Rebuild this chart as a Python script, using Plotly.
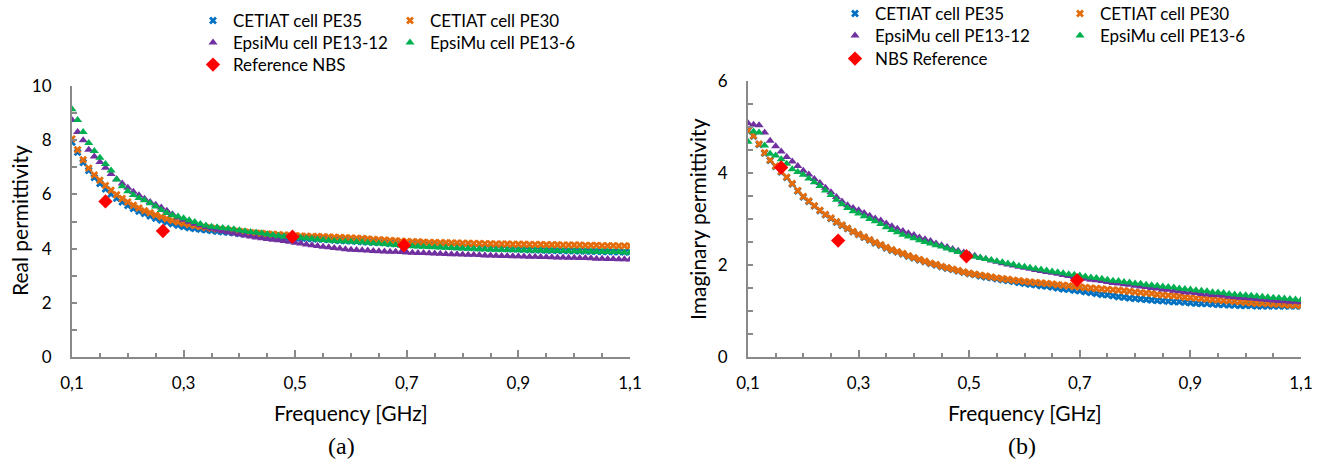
import plotly.graph_objects as go

# Frequency grid of the measurements [GHz]
freq = [
    0.10, 0.11, 0.12, 0.13, 0.14, 0.15, 0.16, 0.17, 0.18, 0.19,
    0.20, 0.21, 0.22, 0.23, 0.24, 0.25, 0.26, 0.27, 0.28, 0.29,
    0.30, 0.31, 0.32, 0.33, 0.34, 0.35, 0.36, 0.37, 0.38, 0.39,
    0.40, 0.41, 0.42, 0.43, 0.44, 0.45, 0.46, 0.47, 0.48, 0.49,
    0.50, 0.51, 0.52, 0.53, 0.54, 0.55, 0.56, 0.57, 0.58, 0.59,
    0.60, 0.61, 0.62, 0.63, 0.64, 0.65, 0.66, 0.67, 0.68, 0.69,
    0.70, 0.71, 0.72, 0.73, 0.74, 0.75, 0.76, 0.77, 0.78, 0.79,
    0.80, 0.81, 0.82, 0.83, 0.84, 0.85, 0.86, 0.87, 0.88, 0.89,
    0.90, 0.91, 0.92, 0.93, 0.94, 0.95, 0.96, 0.97, 0.98, 0.99,
    1.00, 1.01, 1.02, 1.03, 1.04, 1.05, 1.06, 1.07, 1.08, 1.09, 1.10,
]

# Real permittivity
real_pe35 = [
    7.92, 7.55, 7.18, 6.88, 6.62, 6.40, 6.20, 6.01, 5.86, 5.72,
    5.59, 5.48, 5.38, 5.29, 5.20, 5.12, 5.05, 4.98, 4.92, 4.86,
    4.81, 4.77, 4.74, 4.71, 4.69, 4.67, 4.64, 4.62, 4.60, 4.58,
    4.56, 4.54, 4.52, 4.51, 4.49, 4.48, 4.46, 4.45, 4.43, 4.42,
    4.40, 4.39, 4.38, 4.36, 4.35, 4.34, 4.33, 4.31, 4.30, 4.29,
    4.28, 4.27, 4.25, 4.24, 4.23, 4.22, 4.21, 4.19, 4.18, 4.17,
    4.16, 4.15, 4.14, 4.13, 4.12, 4.11, 4.10, 4.09, 4.08, 4.07,
    4.06, 4.05, 4.04, 4.03, 4.02, 4.01, 4.01, 4.00, 3.99, 3.98,
    3.98, 3.97, 3.96, 3.96, 3.95, 3.94, 3.94, 3.93, 3.93, 3.92,
    3.92, 3.91, 3.91, 3.90, 3.90, 3.89, 3.89, 3.88, 3.88, 3.87, 3.87,
]
real_pe30 = [
    8.05, 7.65, 7.28, 6.97, 6.72, 6.52, 6.33, 6.15, 5.99, 5.85,
    5.72, 5.60, 5.50, 5.40, 5.32, 5.24, 5.17, 5.10, 5.04, 4.98,
    4.93, 4.89, 4.85, 4.81, 4.78, 4.75, 4.72, 4.69, 4.67, 4.65,
    4.63, 4.61, 4.59, 4.57, 4.56, 4.54, 4.53, 4.51, 4.50, 4.49,
    4.48, 4.47, 4.46, 4.45, 4.45, 4.44, 4.43, 4.42, 4.41, 4.40,
    4.39, 4.38, 4.37, 4.36, 4.34, 4.33, 4.32, 4.30, 4.29, 4.27,
    4.26, 4.25, 4.25, 4.24, 4.23, 4.23, 4.22, 4.22, 4.21, 4.21,
    4.20, 4.20, 4.19, 4.19, 4.18, 4.18, 4.17, 4.17, 4.17, 4.16,
    4.16, 4.16, 4.15, 4.15, 4.15, 4.14, 4.14, 4.14, 4.13, 4.13,
    4.13, 4.13, 4.12, 4.12, 4.12, 4.11, 4.11, 4.11, 4.10, 4.10, 4.10,
]
real_pe13_12 = [
    8.75, 8.30, 8.00, 7.65, 7.40, 7.20, 6.98, 6.75, 6.56, 6.40,
    6.25, 6.10, 5.97, 5.84, 5.72, 5.62, 5.52, 5.40, 5.27, 5.15,
    5.06, 4.99, 4.92, 4.86, 4.79, 4.74, 4.70, 4.65, 4.60, 4.56,
    4.52, 4.48, 4.45, 4.41, 4.38, 4.35, 4.33, 4.31, 4.28, 4.25,
    4.22, 4.19, 4.15, 4.12, 4.10, 4.07, 4.05, 4.02, 4.00, 3.98,
    3.96, 3.95, 3.94, 3.93, 3.91, 3.90, 3.89, 3.88, 3.88, 3.87,
    3.86, 3.85, 3.84, 3.84, 3.83, 3.82, 3.81, 3.80, 3.79, 3.79,
    3.78, 3.77, 3.77, 3.76, 3.75, 3.75, 3.74, 3.73, 3.73, 3.72,
    3.72, 3.71, 3.70, 3.70, 3.69, 3.69, 3.68, 3.67, 3.67, 3.66,
    3.66, 3.65, 3.65, 3.64, 3.63, 3.63, 3.62, 3.62, 3.61, 3.61, 3.60,
]
real_pe13_6 = [
    9.14, 8.75, 8.30, 7.90, 7.60, 7.35, 7.12, 6.88, 6.55, 6.30,
    6.12, 5.98, 5.87, 5.78, 5.67, 5.55, 5.42, 5.31, 5.23, 5.18,
    5.12, 5.05, 4.98, 4.91, 4.85, 4.81, 4.79, 4.76, 4.74, 4.71,
    4.68, 4.64, 4.61, 4.59, 4.57, 4.53, 4.50, 4.47, 4.45, 4.44,
    4.42, 4.40, 4.38, 4.36, 4.34, 4.32, 4.30, 4.28, 4.27, 4.26,
    4.25, 4.24, 4.23, 4.22, 4.20, 4.19, 4.17, 4.15, 4.13, 4.11,
    4.10, 4.09, 4.08, 4.07, 4.06, 4.05, 4.04, 4.03, 4.02, 4.01,
    4.00, 3.99, 3.99, 3.98, 3.98, 3.97, 3.96, 3.96, 3.95, 3.95,
    3.94, 3.94, 3.93, 3.93, 3.93, 3.92, 3.92, 3.91, 3.91, 3.90,
    3.90, 3.90, 3.89, 3.89, 3.88, 3.88, 3.88, 3.87, 3.87, 3.86, 3.86,
]

# Imaginary permittivity
imag_pe35 = [
    4.92, 4.80, 4.62, 4.43, 4.27, 4.14, 4.02, 3.90, 3.76, 3.61,
    3.48, 3.38, 3.28, 3.18, 3.09, 3.01, 2.93, 2.86, 2.79, 2.72,
    2.66, 2.60, 2.54, 2.48, 2.43, 2.37, 2.32, 2.28, 2.24, 2.19,
    2.15, 2.11, 2.07, 2.03, 2.00, 1.96, 1.93, 1.90, 1.87, 1.84,
    1.81, 1.79, 1.76, 1.74, 1.72, 1.70, 1.68, 1.66, 1.64, 1.62,
    1.60, 1.58, 1.57, 1.55, 1.54, 1.52, 1.50, 1.48, 1.47, 1.45,
    1.44, 1.42, 1.40, 1.38, 1.36, 1.35, 1.33, 1.31, 1.30, 1.28,
    1.27, 1.26, 1.25, 1.24, 1.23, 1.22, 1.21, 1.20, 1.20, 1.19,
    1.18, 1.17, 1.16, 1.16, 1.15, 1.14, 1.14, 1.13, 1.13, 1.12,
    1.12, 1.12, 1.11, 1.11, 1.11, 1.11, 1.11, 1.11, 1.11, 1.11, 1.11,
]
imag_pe30 = [
    4.93, 4.81, 4.63, 4.44, 4.28, 4.15, 4.03, 3.91, 3.77, 3.62,
    3.49, 3.39, 3.29, 3.19, 3.10, 3.02, 2.94, 2.87, 2.80, 2.73,
    2.67, 2.61, 2.55, 2.49, 2.44, 2.38, 2.33, 2.29, 2.25, 2.20,
    2.16, 2.12, 2.08, 2.04, 2.01, 1.97, 1.94, 1.91, 1.88, 1.85,
    1.82, 1.80, 1.78, 1.76, 1.74, 1.72, 1.70, 1.69, 1.67, 1.66,
    1.64, 1.63, 1.62, 1.61, 1.60, 1.59, 1.57, 1.56, 1.55, 1.53,
    1.52, 1.51, 1.50, 1.49, 1.48, 1.47, 1.46, 1.45, 1.44, 1.43,
    1.41, 1.40, 1.39, 1.38, 1.36, 1.35, 1.34, 1.33, 1.32, 1.30,
    1.29, 1.28, 1.27, 1.26, 1.25, 1.24, 1.23, 1.22, 1.21, 1.20,
    1.19, 1.18, 1.17, 1.17, 1.16, 1.15, 1.15, 1.14, 1.13, 1.13, 1.12,
]
imag_pe13_12 = [
    5.08, 5.05, 5.04, 4.88, 4.70, 4.58, 4.47, 4.35, 4.25, 4.15,
    4.05, 3.97, 3.87, 3.78, 3.68, 3.58, 3.48, 3.38, 3.30, 3.24,
    3.19, 3.13, 3.07, 3.01, 2.97, 2.90, 2.84, 2.79, 2.74, 2.69,
    2.65, 2.60, 2.56, 2.52, 2.47, 2.43, 2.39, 2.35, 2.31, 2.27,
    2.23, 2.20, 2.16, 2.13, 2.10, 2.07, 2.04, 2.01, 1.99, 1.96,
    1.94, 1.92, 1.89, 1.87, 1.85, 1.83, 1.81, 1.78, 1.76, 1.74,
    1.72, 1.70, 1.68, 1.67, 1.65, 1.63, 1.61, 1.60, 1.58, 1.57,
    1.55, 1.53, 1.52, 1.50, 1.49, 1.47, 1.46, 1.44, 1.43, 1.41,
    1.40, 1.39, 1.37, 1.36, 1.35, 1.34, 1.33, 1.31, 1.30, 1.29,
    1.28, 1.27, 1.26, 1.25, 1.24, 1.23, 1.22, 1.21, 1.20, 1.20, 1.19,
]
imag_pe13_6 = [
    4.68, 4.90, 4.88, 4.60, 4.42, 4.38, 4.30, 4.20, 4.08, 4.02,
    3.96, 3.88, 3.80, 3.72, 3.62, 3.52, 3.42, 3.32, 3.24, 3.17,
    3.12, 3.06, 3.00, 2.95, 2.89, 2.82, 2.76, 2.71, 2.66, 2.62,
    2.58, 2.54, 2.50, 2.47, 2.43, 2.40, 2.36, 2.32, 2.28, 2.24,
    2.21, 2.18, 2.16, 2.13, 2.11, 2.08, 2.06, 2.03, 2.01, 1.98,
    1.96, 1.94, 1.92, 1.90, 1.88, 1.86, 1.84, 1.82, 1.80, 1.79,
    1.77, 1.75, 1.73, 1.72, 1.70, 1.68, 1.66, 1.65, 1.63, 1.62,
    1.60, 1.59, 1.57, 1.56, 1.55, 1.53, 1.52, 1.51, 1.49, 1.48,
    1.47, 1.45, 1.44, 1.43, 1.41, 1.40, 1.39, 1.37, 1.36, 1.35,
    1.34, 1.33, 1.32, 1.31, 1.30, 1.29, 1.28, 1.27, 1.26, 1.25, 1.24,
]

# NBS reference values
nbs_freq = [0.16, 0.263, 0.495, 0.695]
nbs_real = [5.74, 4.65, 4.44, 4.12]
nbs_imag = [4.12, 2.53, 2.19, 1.67]

x_ticks = [0.1, 0.3, 0.5, 0.7, 0.9, 1.1]
x_ticktext = ["0,1", "0,3", "0,5", "0,7", "0,9", "1,1"]

BLUE = "#0070C0"
ORANGE = "#E46C0A"
PURPLE = "#7030A0"
GREEN = "#00B050"
RED = "#FF0000"
AXIS = "#898989"
FONT = "Lato"

W, H = 1324, 463


def px_x(p):
    return p / W


def px_y(p):
    return 1 - p / H


fig = go.Figure()
legend_slots = {}


def add_series(x, y, name, color, symbol, size, xa, ya, lx, ly):
    # every legend entry sits in its own small legend box
    key = "legend" if not legend_slots else f"legend{len(legend_slots) + 1}"
    legend_slots[key] = (lx, ly)
    fig.add_trace(go.Scatter(
        x=x, y=y, mode="markers", name=name,
        marker=dict(symbol=symbol, size=size, color=color, line=dict(width=0)),
        xaxis=xa, yaxis=ya, legend=key,
    ))


# Panel (a): real permittivity
add_series(freq, real_pe35, "CETIAT cell PE35", BLUE, "x", 7, "x", "y", 193, 21)
add_series(freq, real_pe30, "CETIAT cell PE30", ORANGE, "x", 7, "x", "y", 390, 21)
add_series(freq, real_pe13_12, "EpsiMu cell PE13-12", PURPLE, "triangle-up", 8, "x", "y", 193, 43)
add_series(freq, real_pe13_6, "EpsiMu cell PE13-6", GREEN, "triangle-up", 8, "x", "y", 390, 43)
add_series(nbs_freq, nbs_real, "Reference NBS", RED, "diamond", 11, "x", "y", 193, 65)

# Panel (b): imaginary permittivity
add_series(freq, imag_pe35, "CETIAT cell PE35", BLUE, "x", 7, "x2", "y2", 835, 14)
add_series(freq, imag_pe30, "CETIAT cell PE30", ORANGE, "x", 7, "x2", "y2", 1060, 14)
add_series(freq, imag_pe13_12, "EpsiMu cell PE13-12", PURPLE, "triangle-up", 8, "x2", "y2", 835, 36)
add_series(freq, imag_pe13_6, "EpsiMu cell PE13-6", GREEN, "triangle-up", 8, "x2", "y2", 1060, 36)
add_series(nbs_freq, nbs_imag, "NBS Reference", RED, "diamond", 11, "x2", "y2", 835, 59)

tick_font = dict(family=FONT, size=17, color="#000000")

xaxis_common = dict(
    range=[0.1, 1.1], tickvals=x_ticks, ticktext=x_ticktext,
    ticks="inside", ticklen=7, tickwidth=1.5, tickcolor=AXIS,
    minor=dict(dtick=0.05, tick0=0.1, ticks="inside", ticklen=4, tickwidth=1.5, tickcolor=AXIS),
    showline=True, linecolor=AXIS, linewidth=2, showgrid=False, zeroline=False,
    tickfont=tick_font, ticklabelstandoff=10, automargin=False,
)
yaxis_common = dict(
    ticks="inside", ticklen=5, tickwidth=1.5, tickcolor=AXIS,
    showline=True, linecolor=AXIS, linewidth=2, showgrid=False, zeroline=False,
    tickfont=tick_font, ticklabelstandoff=15, automargin=False,
)

y_bottom = px_y(357)
fig.update_layout(
    width=W, height=H,
    margin=dict(l=0, r=0, t=0, b=0, autoexpand=False),
    paper_bgcolor="white", plot_bgcolor="white",
    showlegend=True,
    xaxis=dict(domain=[px_x(72), px_x(630)], anchor="y", **xaxis_common),
    yaxis=dict(domain=[y_bottom, px_y(86)], anchor="x", range=[0, 10],
               tickvals=[0, 2, 4, 6, 8, 10],
               minor=dict(dtick=1, ticks="inside", ticklen=5, tickwidth=1.5, tickcolor=AXIS),
               **yaxis_common),
    xaxis2=dict(domain=[px_x(748), px_x(1301)], anchor="y2", **xaxis_common),
    yaxis2=dict(domain=[y_bottom, px_y(81)], anchor="x2", range=[0, 6],
                tickvals=[0, 2, 4, 6],
                minor=dict(dtick=0.5, ticks="inside", ticklen=5, tickwidth=1.5, tickcolor=AXIS),
                **yaxis_common),
)

legend_style = dict(
    orientation="v", xanchor="left", yanchor="middle", bgcolor="rgba(0,0,0,0)",
    font=dict(family=FONT, size=17, color="#000000"),
    itemclick=False, itemdoubleclick=False,
)
fig.update_layout(**{
    key: dict(x=px_x(lx), y=px_y(ly), **legend_style)
    for key, (lx, ly) in legend_slots.items()
})

title_font = dict(family=FONT, size=21, color="#000000")
annotations = [
    dict(text="Real permittivity", x=px_x(19), y=px_y(221), textangle=-90),
    dict(text="Imaginary permittivity", x=px_x(697), y=px_y(219), textangle=-90),
    dict(text="Frequency [GHz]", x=px_x(351), y=px_y(412)),
    dict(text="Frequency [GHz]", x=px_x(1025), y=px_y(412)),
]
for a in annotations:
    fig.add_annotation(xref="paper", yref="paper", showarrow=False,
                       xanchor="center", yanchor="middle", font=title_font, **a)

for label, cx in (("(a)", 341), ("(b)", 1022)):
    fig.add_annotation(text=label, xref="paper", yref="paper", x=px_x(cx), y=px_y(446),
                       showarrow=False, xanchor="center", yanchor="middle",
                       font=dict(family="Liberation Serif", size=24, color="#000000"))

fig.write_html("out.html")
